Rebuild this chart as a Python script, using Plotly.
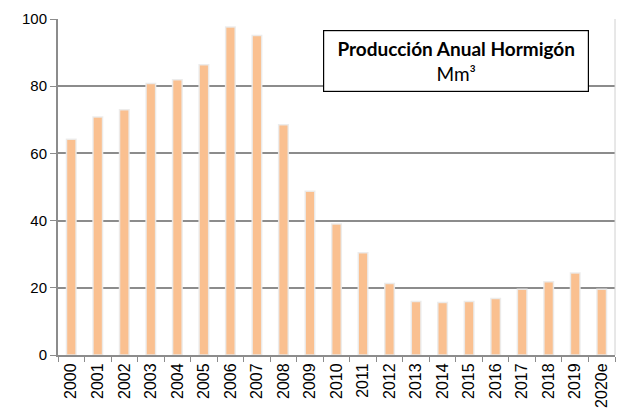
import plotly.graph_objects as go

years = ["2000", "2001", "2002", "2003", "2004", "2005", "2006", "2007", "2008", "2009",
         "2010", "2011", "2012", "2013", "2014", "2015", "2016", "2017", "2018", "2019", "2020e"]
produccion = [64.2, 70.8, 73.0, 80.8, 81.9, 86.4, 97.6, 95.1, 68.5, 48.7,
              39.0, 30.4, 21.3, 15.9, 15.6, 15.9, 16.8, 19.6, 21.8, 24.4, 19.6]

fig = go.Figure()
fig.add_trace(go.Bar(
    x=years,
    y=produccion,
    width=0.36,
    marker=dict(color="#FAC090", line=dict(color="rgba(235,235,235,0.9)", width=1.5)),
    showlegend=False,
))

# page body adds an 8px offset, margins compensate for it
fig.update_layout(
    width=628, height=412,
    margin=dict(l=50, r=21, t=11, b=65),
    paper_bgcolor="white",
    plot_bgcolor="white",
    font=dict(family="Liberation Sans", size=14, color="black"),
)

fig.update_xaxes(
    type="category",
    tickangle=-90,
    ticks="outside",
    tickson="boundaries",
    ticklen=5,
    tickcolor="#8c8c8c",
    showline=True,
    linecolor="#8c8c8c",
    linewidth=2,
    tickfont=dict(family="Liberation Sans", size=16),
    automargin=False,
)
fig.update_yaxes(
    range=[0, 100],
    dtick=20,
    ticks="outside",
    ticklen=6,
    tickcolor="#8c8c8c",
    showline=True,
    linecolor="#8c8c8c",
    linewidth=2,
    showgrid=True,
    gridcolor="#8c8c8c",
    gridwidth=1.5,
    zeroline=False,
    tickfont=dict(family="Liberation Sans", size=15),
    automargin=False,
)

# right border of the plot area
fig.add_shape(type="line", xref="paper", yref="paper", x0=1, x1=1, y0=0, y1=1,
              line=dict(color="#d0d0d0", width=1))

fig.add_annotation(
    xref="paper", yref="paper",
    x=0.476, y=0.968,
    xanchor="left", yanchor="top",
    text="<b>Producción Anual Hormigón</b><br>Mm³",
    showarrow=False,
    font=dict(family="Lato", size=19, color="black"),
    align="center",
    bordercolor="black",
    borderwidth=1.2,
    borderpad=3,
    bgcolor="white",
    width=258,
    height=54,
)

fig.write_html("out.html")
